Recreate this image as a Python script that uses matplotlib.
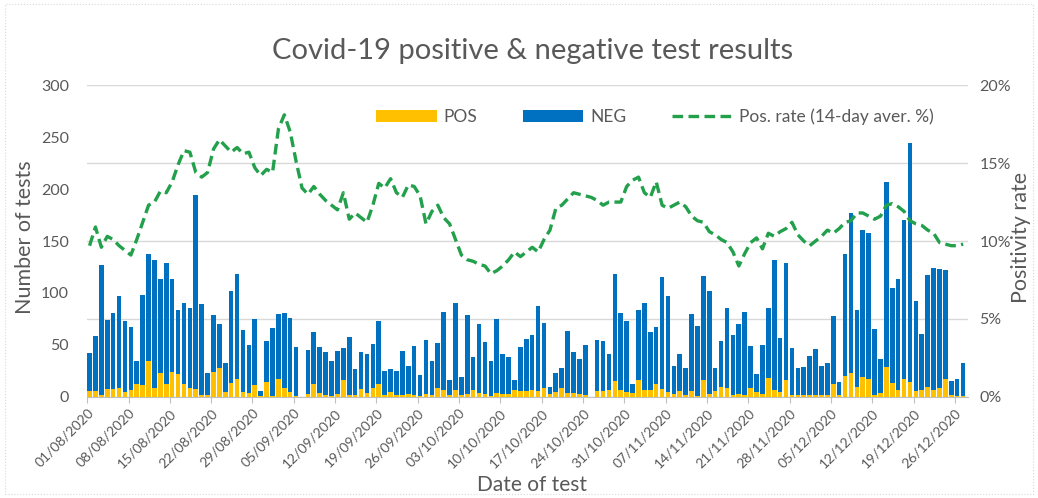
import matplotlib.pyplot as plt
import numpy as np
import pandas as pd
from matplotlib.patches import Rectangle
from matplotlib.ticker import PercentFormatter

# daily test counts, 01/08/2020 .. 27/12/2020
days = pd.date_range('2020-08-01', periods=149, freq='D')

total_tests = [
    42, 59, 127, 74, 81, 97, 73, 67, 35, 98, 138, 132, 113, 129, 113, 84, 90, 86, 194, 89,
    23, 79, 70, 33, 102, 118, 64, 50, 75, 6, 54, 66, 80, 81, 76, 48, 0, 45, 62, 48,
    43, 35, 44, 47, 58, 27, 43, 41, 51, 73, 25, 27, 25, 44, 30, 49, 21, 55, 35, 52,
    82, 16, 90, 19, 79, 38, 70, 53, 35, 75, 41, 38, 16, 48, 56, 60, 87, 71, 10, 23,
    28, 63, 43, 36, 50, 0, 55, 54, 41, 118, 81, 73, 12, 84, 90, 62, 67, 115, 97, 30,
    41, 28, 80, 68, 116, 102, 28, 54, 86, 60, 70, 82, 49, 22, 50, 86, 132, 57, 129, 47,
    28, 29, 39, 46, 30, 33, 78, 14, 138, 177, 84, 161, 158, 65, 36, 207, 105, 113, 170, 244,
    92, 61, 117, 124, 123, 122, 15, 17, 33,
]
pos_tests = [
    6, 6, 2, 8, 8, 9, 5, 7, 12, 11, 35, 9, 23, 12, 24, 22, 12, 9, 8, 2,
    2, 24, 28, 5, 13, 17, 5, 4, 11, 1, 14, 1, 17, 9, 5, 1, 0, 3, 12, 4,
    2, 1, 3, 16, 2, 2, 8, 4, 9, 12, 2, 5, 2, 2, 3, 2, 1, 3, 2, 9,
    7, 2, 7, 2, 3, 7, 4, 3, 1, 4, 3, 3, 7, 6, 6, 7, 6, 9, 3, 5,
    9, 4, 4, 3, 2, 0, 6, 6, 7, 15, 7, 5, 4, 16, 7, 7, 12, 8, 5, 3,
    6, 2, 6, 1, 16, 3, 6, 10, 9, 2, 3, 2, 9, 5, 3, 18, 7, 5, 16, 2,
    2, 2, 2, 2, 2, 2, 12, 2, 20, 23, 10, 19, 17, 2, 4, 29, 13, 7, 17, 14,
    6, 7, 10, 7, 9, 17, 2, 1, 1,
]
neg_tests = [t - p for t, p in zip(total_tests, pos_tests)]

# 14-day average positivity, %
pos_rate = [
    9.7, 10.9, 9.6, 10.3, 10.1, 9.7, 9.4, 9.1, 10.1, 11.2, 12.3, 12.5, 13.2, 13.1, 13.8, 14.9,
    15.8, 15.7, 14.4, 14.1, 14.4, 15.9, 16.5, 16.1, 15.7, 16.0, 15.6, 15.7, 14.7, 14.2, 14.6, 14.4,
    17.2, 18.1, 17.0, 15.1, 13.4, 13.0, 13.5, 13.0, 12.6, 12.3, 12.0, 13.1, 11.4, 11.8, 11.5, 11.2,
    12.3, 13.7, 13.4, 14.0, 13.1, 12.8, 13.6, 13.5, 12.9, 11.1, 11.9, 12.3, 11.5, 11.1, 10.1, 9.1,
    8.8, 8.7, 8.5, 8.4, 7.9, 8.1, 8.4, 8.8, 9.3, 9.0, 9.3, 9.6, 9.3, 10.1, 10.7, 12.1,
    12.3, 12.7, 13.1, 13.0, 12.9, 12.8, 12.6, 12.3, 12.5, 12.5, 12.5, 13.5, 13.9, 14.1, 13.1, 12.8,
    13.8, 12.3, 12.1, 12.3, 12.5, 12.2, 11.6, 11.3, 11.2, 10.6, 10.4, 10.1, 9.9, 9.3, 8.4, 9.2,
    9.9, 10.2, 9.5, 10.5, 10.3, 10.6, 10.8, 11.2, 10.4, 10.0, 9.7, 10.0, 10.3, 10.7, 10.5, 10.8,
    11.2, 11.3, 11.8, 11.8, 11.6, 11.4, 11.6, 12.3, 12.4, 12.2, 11.9, 11.3, 11.1, 11.0, 10.7, 10.5,
    9.9, 9.8, 9.7, 9.7, 9.8,
]

plt.rcParams['font.family'] = ['Lato', 'DejaVu Sans']
grey = '#595959'

fig = plt.figure(figsize=(10.38, 4.98), dpi=100)
ax = fig.add_axes([0.084, 0.203, 0.849, 0.626])
x = np.arange(len(days))

# gridlines follow the right-hand axis (every 5 %)
for g in np.arange(0, 301, 75):
    ax.axhline(g, color='#D9D9D9', lw=1, zorder=0)

ax.bar(x, pos_tests, width=0.78, align='edge', color='#FFC000', label='POS', zorder=3)
ax.bar(x, neg_tests, bottom=pos_tests, width=0.78, align='edge', color='#0070C0',
       label='NEG', zorder=3)
ax.set_xlim(0, 149.3)
ax.set_ylim(0, 300)
ax.set_yticks(np.arange(0, 301, 50))

ticks = x[::7]
ax.set_xticks(ticks)
ax.set_xticklabels([days[i].strftime('%d/%m/%Y') for i in ticks], rotation=45,
                   ha='right', rotation_mode='anchor', fontsize=10, color=grey)
ax.tick_params(axis='x', length=4, color='#BFBFBF', pad=3)
ax.tick_params(axis='y', length=0, labelsize=11.5, labelcolor=grey, pad=13)
for s in ['top', 'right', 'left']:
    ax.spines[s].set_visible(False)
ax.spines['bottom'].set_color('#BFBFBF')

ax2 = ax.twinx()
ax2.plot(x + 0.4, pos_rate, color='#22A04B', lw=2.4, ls=(0, (3.2, 1.6)),
         label='Pos. rate (14-day aver. %)', zorder=4)
ax2.set_ylim(0, 20)
ax2.set_yticks(np.arange(0, 21, 5))
ax2.yaxis.set_major_formatter(PercentFormatter(decimals=0))
ax2.tick_params(axis='y', length=0, labelsize=11.5, labelcolor=grey, pad=8)
for s in ax2.spines.values():
    s.set_visible(False)

h1, l1 = ax.get_legend_handles_labels()
h2, l2 = ax2.get_legend_handles_labels()
fig.legend(h1 + h2, l1 + l2, ncol=3, frameon=False, loc='center',
           bbox_to_anchor=(0.631, 0.765), fontsize=12.5, handlelength=3.5,
           columnspacing=2.6, handletextpad=0.4, labelcolor=grey)

fig.text(0.513, 0.898, 'Covid-19 positive & negative test results', ha='center',
         va='center', fontsize=21, color=grey)
fig.text(0.513, 0.026, 'Date of test', ha='center', va='center', fontsize=15, color=grey)
fig.text(0.024, 0.524, 'Number of tests', ha='center', va='center', rotation=90,
         fontsize=15.5, color=grey)
fig.text(0.984, 0.524, 'Positivity rate', ha='center', va='center', rotation=90,
         fontsize=15.5, color=grey)

fig.patches.append(Rectangle((0.005, 0.008), 0.99, 0.984, transform=fig.transFigure,
                             fill=False, edgecolor='#D9D9D9', lw=0.8, ls=':'))

fig.savefig('out.png', dpi=100)
